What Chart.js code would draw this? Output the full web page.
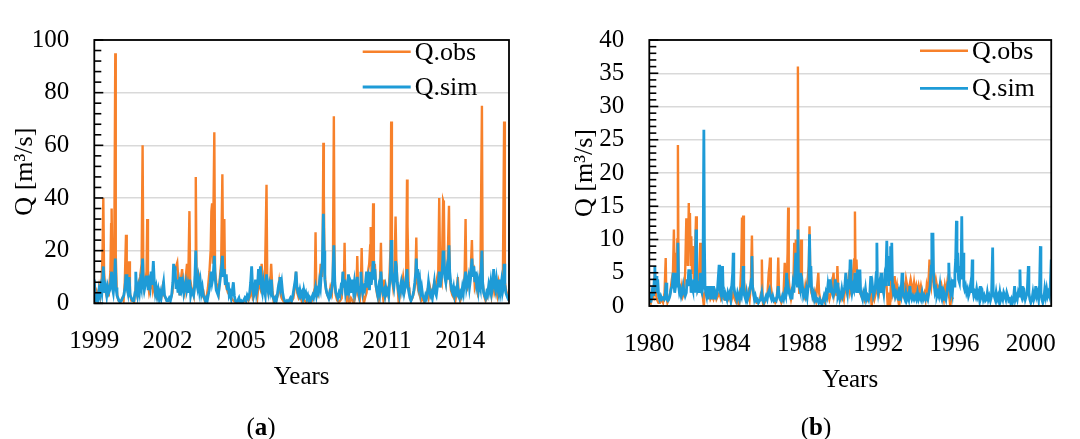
<!DOCTYPE html>
<html>
<head>
<meta charset="utf-8">
<script src="https://cdn.jsdelivr.net/npm/chart.js@4.4.1/dist/chart.umd.min.js"></script>
<style>
  html, body { margin: 0; padding: 0; background: #fff; }
  #wrap { position: relative; width: 1080px; height: 439px; overflow: hidden; }
  .panel { position: absolute; top: 0; width: 540px; height: 439px; }
  .cap { position: absolute; top: 413px; font: 25px "Liberation Serif", serif; color: #000; transform: translateX(-50%); }
</style>
</head>
<body>
<div id="wrap">
  <div class="panel" style="left:0"><canvas id="chartA" width="540" height="439"></canvas></div>
  <div class="panel" style="left:540px"><canvas id="chartB" width="540" height="439"></canvas></div>
  <div class="cap" style="left:261px">(<b>a</b>)</div>
  <div class="cap" style="left:816px">(<b>b</b>)</div>
</div>
<script>
// etichette e tick
const seriesNames = ['Q.obs', 'Q.sim'];
const aYearTicks = [1999, 2002, 2005, 2008, 2011, 2014];
const bYearTicks = [1980, 1984, 1988, 1992, 1996, 2000];
const aQTicks = [0, 20, 40, 60, 80, 100];
const bQTicks = [0, 5, 10, 15, 20, 25, 30, 35, 40];

// (a) portata osservata [anno, Q]
const aObs = [
  [1999.00,2],[1999.05,1],[1999.10,4],[1999.15,2],[1999.20,6],[1999.25,3],[1999.30,8],[1999.34,20],[1999.37,40],[1999.40,12],[1999.45,5],[1999.50,3],[1999.55,5],[1999.60,4],[1999.66,12],[1999.69,30],[1999.71,36],[1999.74,10],[1999.78,6],[1999.82,20],[1999.86,95],[1999.88,18],[1999.92,5],[1999.96,2],
  [2000.00,1],[2000.05,0.5],[2000.10,1],[2000.15,2],[2000.20,1],[2000.25,8],[2000.30,26],[2000.33,8],[2000.38,4],[2000.43,16],[2000.46,4],[2000.52,1],[2000.58,1],[2000.63,0.5],[2000.70,6],[2000.76,3],[2000.82,8],[2000.88,10],[2000.94,15],[2000.98,60],
  [2001.01,12],[2001.05,6],[2001.10,8],[2001.14,12],[2001.17,32],[2001.20,8],[2001.25,4],[2001.30,6],[2001.35,9],[2001.40,5],[2001.45,8],[2001.50,3],[2001.56,2],[2001.62,4],[2001.68,3],[2001.74,2],[2001.80,6],[2001.86,3],[2001.92,2],[2001.97,1],
  [2002.03,1],[2002.08,1],[2002.14,2],[2002.20,4],[2002.25,10],[2002.30,12],[2002.35,14],[2002.40,15.5],[2002.45,8],[2002.50,3],[2002.55,9],[2002.60,13],[2002.65,6],[2002.70,4],[2002.75,10],[2002.80,15],[2002.85,8],[2002.90,35],[2002.93,9],[2002.98,6],
  [2003.03,5],[2003.08,3],[2003.13,10],[2003.16,48],[2003.19,10],[2003.24,12],[2003.28,11],[2003.33,5],[2003.38,6],[2003.43,3],[2003.48,4],[2003.54,0.5],[2003.60,2],[2003.66,6],[2003.72,12],[2003.77,20],[2003.80,35],[2003.83,38],[2003.86,15],[2003.92,65],[2003.95,12],
  [2004.00,8],[2004.05,6],[2004.10,4],[2004.15,10],[2004.20,15],[2004.25,49],[2004.28,14],[2004.33,32],[2004.36,8],[2004.42,6],[2004.48,4],[2004.55,3],[2004.62,2],[2004.70,1],[2004.78,0.5],[2004.86,0],[2004.94,1],
  [2005.02,0.5],[2005.10,0.5],[2005.18,1],[2005.25,2],[2005.32,1],[2005.40,3],[2005.45,6],[2005.50,2],[2005.56,3],[2005.62,5],[2005.68,2],[2005.74,8],[2005.80,6],[2005.86,15],[2005.90,8],[2005.95,4],
  [2006.00,12],[2006.06,45],[2006.09,8],[2006.14,4],[2006.20,6],[2006.25,15],[2006.30,5],[2006.35,1],[2006.40,2],[2006.46,1],[2006.52,3],[2006.58,8],[2006.63,4],[2006.68,2],[2006.74,1],[2006.80,0.5],[2006.86,0.5],[2006.92,0],[2006.98,1],
  [2007.04,0.5],[2007.10,1],[2007.16,2],[2007.22,6],[2007.27,12],[2007.32,4],[2007.38,2],[2007.44,3],[2007.50,1],[2007.56,2],[2007.62,1],[2007.68,0.5],[2007.74,1],[2007.80,0.5],[2007.86,0],[2007.92,1],[2007.98,3],
  [2008.04,6],[2008.07,27],[2008.10,4],[2008.16,3],[2008.22,6],[2008.28,15],[2008.33,10],[2008.36,20],[2008.39,61],[2008.41,42],[2008.44,12],[2008.50,5],[2008.56,3],[2008.62,2],[2008.68,6],[2008.74,4],[2008.78,10],[2008.82,71],[2008.85,8],[2008.90,3],[2008.96,1],
  [2009.02,0.5],[2009.08,1],[2009.14,2],[2009.20,12],[2009.23,6],[2009.26,23],[2009.29,5],[2009.35,1],[2009.40,3],[2009.46,0],[2009.52,2],[2009.58,1],[2009.64,0],[2009.70,3],[2009.75,6],[2009.78,18],[2009.82,3],[2009.88,1],[2009.93,8],[2009.96,21],
  [2010.00,4],[2010.05,0],[2010.10,2],[2010.16,4],[2010.22,12],[2010.27,15],[2010.31,22],[2010.33,29],[2010.37,8],[2010.40,14],[2010.43,38],[2010.46,12],[2010.50,15],[2010.55,6],[2010.60,3],[2010.66,1],[2010.70,4],[2010.75,23],[2010.78,6],[2010.84,2],[2010.89,9],[2010.94,3],
  [2011.00,5],[2011.05,3],[2011.10,10],[2011.14,20],[2011.17,69],[2011.20,10],[2011.25,6],[2011.30,10],[2011.35,33],[2011.38,17],[2011.42,8],[2011.48,0],[2011.54,4],[2011.60,6],[2011.66,10],[2011.72,5],[2011.78,8],[2011.82,47],[2011.84,30],[2011.88,8],[2011.94,3],[2011.98,1],
  [2012.04,2],[2012.10,4],[2012.16,8],[2012.20,25],[2012.23,9],[2012.28,5],[2012.34,3],[2012.40,1],[2012.46,2],[2012.52,0.5],[2012.58,1],[2012.64,4],[2012.70,2],[2012.76,6],[2012.82,3],[2012.88,5],[2012.94,8],
  [2013.00,6],[2013.06,10],[2013.10,12],[2013.14,40],[2013.18,10],[2013.24,8],[2013.30,39],[2013.33,38],[2013.36,12],[2013.42,8],[2013.48,14],[2013.54,37],[2013.57,10],[2013.62,5],[2013.68,3],[2013.74,2],[2013.80,1],[2013.86,4],[2013.90,10],[2013.94,3],
  [2014.00,1],[2014.06,3],[2014.12,6],[2014.18,10],[2014.22,32],[2014.25,8],[2014.30,6],[2014.36,8],[2014.42,10],[2014.48,24],[2014.51,12],[2014.56,13],[2014.60,6],[2014.66,8],[2014.72,4],[2014.78,6],[2014.83,12],[2014.89,75],[2014.92,8],[2014.98,3],
  [2015.04,1],[2015.10,2],[2015.16,5],[2015.22,7],[2015.28,3],[2015.34,8],[2015.40,4],[2015.46,6],[2015.52,3],[2015.58,8],[2015.64,5],[2015.70,6],[2015.75,10],[2015.80,69],[2015.83,8],[2015.88,5],[2015.94,3],[2016.00,1]
];

// (a) portata simulata
const aSim = [
  [1999.00,9],[1999.03,3],[1999.07,1],[1999.11,4],[1999.15,2],[1999.19,5],[1999.23,3],[1999.27,6],[1999.31,4],[1999.35,10],[1999.37,14],[1999.40,6],[1999.43,4],[1999.47,6],[1999.51,3],[1999.55,6],[1999.59,4],[1999.63,5],[1999.67,8],[1999.71,12],[1999.74,6],[1999.78,4],[1999.82,8],[1999.86,17],[1999.89,6],[1999.93,3],[1999.97,2],
  [2000.01,1],[2000.06,0.5],[2000.11,1],[2000.16,2],[2000.21,3],[2000.26,6],[2000.30,11],[2000.34,6],[2000.38,4],[2000.43,10],[2000.47,3],[2000.52,2],[2000.57,1],[2000.62,1],[2000.67,4],[2000.70,12],[2000.73,5],[2000.77,3],[2000.81,6],[2000.85,4],[2000.89,8],[2000.93,6],[2000.98,17],
  [2001.01,8],[2001.05,5],[2001.09,7],[2001.13,10],[2001.17,10],[2001.21,5],[2001.25,8],[2001.29,6],[2001.33,12],[2001.37,7],[2001.42,16],[2001.46,8],[2001.50,4],[2001.54,6],[2001.58,3],[2001.62,5],[2001.66,2],[2001.70,4],[2001.74,2],[2001.79,5],[2001.84,8],[2001.88,3],[2001.93,2],[2001.97,1],
  [2002.02,1],[2002.07,2],[2002.12,1],[2002.17,3],[2002.22,8],[2002.25,15],[2002.28,10],[2002.31,14],[2002.35,6],[2002.39,9],[2002.43,4],[2002.47,7],[2002.51,3],[2002.55,10],[2002.59,6],[2002.63,8],[2002.67,4],[2002.71,6],[2002.75,8],[2002.79,5],[2002.83,7],[2002.87,4],[2002.91,9],[2002.95,3],[2002.99,5],
  [2003.03,4],[2003.07,3],[2003.11,6],[2003.16,20],[2003.19,8],[2003.23,6],[2003.27,9],[2003.31,5],[2003.35,8],[2003.39,4],[2003.43,6],[2003.47,3],[2003.51,2],[2003.55,1],[2003.59,2],[2003.63,1],[2003.67,3],[2003.71,5],[2003.75,8],[2003.79,12],[2003.83,8],[2003.87,10],[2003.92,18],[2003.96,9],
  [2004.00,5],[2004.04,4],[2004.08,3],[2004.12,6],[2004.16,9],[2004.20,12],[2004.25,18],[2004.29,10],[2004.33,13],[2004.37,7],[2004.41,11],[2004.45,5],[2004.49,8],[2004.53,3],[2004.57,4],[2004.61,2],[2004.66,5],[2004.70,8],[2004.74,3],[2004.78,1],[2004.83,0.5],[2004.88,1],[2004.93,2],[2004.97,0.5],
  [2005.02,1],[2005.07,0.5],[2005.12,1],[2005.17,2],[2005.22,1],[2005.27,3],[2005.32,2],[2005.37,4],[2005.41,8],[2005.45,14],[2005.49,6],[2005.53,3],[2005.57,5],[2005.61,9],[2005.65,4],[2005.69,6],[2005.73,13],[2005.77,7],[2005.81,14],[2005.85,6],[2005.89,4],[2005.93,8],[2005.97,5],
  [2006.01,3],[2006.06,11],[2006.10,6],[2006.14,4],[2006.18,7],[2006.22,5],[2006.26,9],[2006.30,3],[2006.34,2],[2006.38,1],[2006.42,2],[2006.46,1],[2006.50,3],[2006.54,6],[2006.58,8],[2006.61,10],[2006.64,6],[2006.68,8],[2006.72,4],[2006.76,2],[2006.80,1],[2006.85,0.5],[2006.90,1],[2006.95,0.5],[2006.99,1],
  [2007.04,2],[2007.09,1],[2007.14,3],[2007.19,6],[2007.24,9],[2007.27,12],[2007.31,6],[2007.35,4],[2007.39,3],[2007.43,5],[2007.47,3],[2007.51,4],[2007.55,2],[2007.59,5],[2007.63,3],[2007.67,4],[2007.71,2],[2007.75,3],[2007.79,1],[2007.83,2],[2007.87,1],[2007.91,2],[2007.95,3],[2007.99,2],
  [2008.03,4],[2008.07,6],[2008.11,3],[2008.15,5],[2008.19,4],[2008.23,8],[2008.27,6],[2008.31,12],[2008.35,16],[2008.39,34],[2008.42,20],[2008.45,9],[2008.49,6],[2008.53,4],[2008.57,3],[2008.61,2],[2008.65,4],[2008.69,3],[2008.73,5],[2008.77,8],[2008.82,22],[2008.86,8],[2008.90,4],[2008.94,3],[2008.98,2],
  [2009.03,4],[2009.07,3],[2009.11,6],[2009.15,5],[2009.19,12],[2009.23,6],[2009.26,9],[2009.30,4],[2009.34,6],[2009.38,3],[2009.42,11],[2009.46,5],[2009.50,7],[2009.54,4],[2009.58,9],[2009.62,5],[2009.66,8],[2009.70,4],[2009.74,6],[2009.78,10],[2009.82,5],[2009.86,3],[2009.90,6],[2009.93,12],[2009.96,7],
  [2010.00,4],[2010.04,6],[2010.08,5],[2010.12,8],[2010.16,12],[2010.20,6],[2010.24,9],[2010.28,5],[2010.31,12],[2010.35,7],[2010.39,10],[2010.43,16],[2010.46,9],[2010.50,13],[2010.54,7],[2010.58,5],[2010.62,3],[2010.66,6],[2010.70,4],[2010.75,12],[2010.79,6],[2010.83,4],[2010.87,5],[2010.91,3],[2010.95,6],[2010.99,4],
  [2011.03,5],[2011.07,3],[2011.11,8],[2011.14,12],[2011.17,24],[2011.20,12],[2011.24,8],[2011.28,6],[2011.32,10],[2011.35,16],[2011.38,14],[2011.42,8],[2011.46,5],[2011.50,3],[2011.54,6],[2011.58,8],[2011.62,5],[2011.66,7],[2011.70,4],[2011.74,6],[2011.78,9],[2011.82,13],[2011.86,6],[2011.90,4],[2011.94,2],[2011.98,1],
  [2012.02,2],[2012.06,3],[2012.10,5],[2012.14,8],[2012.18,12],[2012.20,17],[2012.23,10],[2012.26,13],[2012.30,7],[2012.34,9],[2012.38,4],[2012.42,6],[2012.46,3],[2012.50,2],[2012.54,1],[2012.58,3],[2012.62,2],[2012.66,4],[2012.70,8],[2012.74,5],[2012.78,3],[2012.82,4],[2012.86,2],[2012.90,5],[2012.94,8],[2012.98,4],
  [2013.02,3],[2013.06,6],[2013.10,8],[2013.14,12],[2013.18,6],[2013.22,9],[2013.26,12],[2013.30,20],[2013.33,18],[2013.37,10],[2013.41,8],[2013.45,12],[2013.49,9],[2013.54,22],[2013.57,12],[2013.61,8],[2013.65,5],[2013.69,4],[2013.73,6],[2013.77,3],[2013.81,5],[2013.85,4],[2013.89,7],[2013.93,3],[2013.97,2],
  [2014.01,4],[2014.05,3],[2014.09,6],[2014.13,4],[2014.17,8],[2014.22,12],[2014.26,6],[2014.30,8],[2014.34,10],[2014.38,6],[2014.42,9],[2014.48,17],[2014.52,10],[2014.56,14],[2014.60,8],[2014.63,12],[2014.67,7],[2014.71,9],[2014.75,5],[2014.79,8],[2014.83,6],[2014.89,20],[2014.92,8],[2014.96,4],
  [2015.00,3],[2015.04,2],[2015.08,4],[2015.12,3],[2015.17,7],[2015.21,5],[2015.25,8],[2015.29,4],[2015.33,6],[2015.37,13],[2015.41,7],[2015.45,5],[2015.49,9],[2015.53,6],[2015.57,4],[2015.61,9],[2015.65,5],[2015.69,8],[2015.73,4],[2015.77,6],[2015.80,15],[2015.83,7],[2015.87,4],[2015.91,3],[2015.95,2],[2016.00,1]
];

// (b) portata osservata
const bObs = [
  [1980.00,1],[1980.08,0.5],[1980.15,2],[1980.22,1.5],[1980.29,5],[1980.33,2],[1980.40,1],[1980.48,0.5],[1980.56,0.5],[1980.64,1],[1980.72,0.5],[1980.80,2],[1980.86,7.2],[1980.89,1.5],[1980.95,0.5],
  [1981.02,1],[1981.10,2],[1981.18,4],[1981.24,5],[1981.29,11.5],[1981.33,4],[1981.38,8],[1981.42,3],[1981.47,10],[1981.50,24.2],[1981.53,5],[1981.58,3],[1981.64,2],[1981.70,3],[1981.76,1.5],[1981.82,2],[1981.88,5],[1981.94,13],[1981.98,13],
  [1982.02,6],[1982.07,15.5],[1982.10,10],[1982.13,14],[1982.17,6],[1982.20,10.5],[1982.24,5],[1982.28,9],[1982.33,4],[1982.38,6],[1982.45,13.5],[1982.49,5],[1982.54,3],[1982.60,4],[1982.67,9.5],[1982.70,3],[1982.76,2],[1982.80,1.5],[1982.86,0],[1982.90,2],[1982.96,2],
  [1983.04,1.5],[1983.12,2],[1983.20,1],[1983.28,1.5],[1983.36,1],[1983.44,2],[1983.52,1],[1983.60,1.5],[1983.68,2],[1983.76,1],[1983.84,1.5],[1983.92,1],
  [1984.00,1],[1984.08,1.5],[1984.16,1],[1984.24,2],[1984.32,1],[1984.40,2],[1984.48,1],[1984.56,0.5],[1984.64,1],[1984.70,0],[1984.76,2],[1984.82,6],[1984.86,13.3],[1984.89,8],[1984.92,13.6],[1984.96,4],
  [1985.02,2],[1985.08,1.5],[1985.14,1],[1985.20,2],[1985.26,1],[1985.32,3],[1985.38,10.6],[1985.42,3],[1985.48,1.5],[1985.56,1],[1985.64,0.5],[1985.72,0.5],[1985.80,1],[1985.86,2],[1985.90,7],[1985.94,1],[1985.98,0],
  [1986.04,0.5],[1986.12,1],[1986.20,2],[1986.26,5],[1986.30,6],[1986.33,7.3],[1986.37,3],[1986.44,1.5],[1986.52,1],[1986.60,0.5],[1986.68,1],[1986.72,3],[1986.76,7.3],[1986.80,2],[1986.86,1],[1986.92,0.5],[1986.98,1],
  [1987.04,2],[1987.10,6.5],[1987.14,2],[1987.20,3],[1987.25,8],[1987.28,14.8],[1987.31,4],[1987.37,2],[1987.43,1],[1987.50,2],[1987.56,4],[1987.60,9.5],[1987.64,6],[1987.68,10],[1987.72,8],[1987.76,4],[1987.79,36],[1987.82,5],[1987.86,2],[1987.90,4],[1987.96,10],
  [1988.00,3],[1988.06,2],[1988.12,1.5],[1988.18,3],[1988.24,2],[1988.30,4],[1988.36,6],[1988.40,12],[1988.44,4],[1988.50,2],[1988.56,1.5],[1988.62,1],[1988.68,2],[1988.74,1],[1988.80,3],[1988.86,5],[1988.90,2],[1988.96,1],
  [1989.04,0.5],[1989.12,1],[1989.20,0.5],[1989.28,1],[1989.36,2],[1989.44,1],[1989.52,2],[1989.58,3],[1989.66,5],[1989.70,2],[1989.76,3],[1989.82,1.5],[1989.86,6],[1989.90,3],[1989.96,1.5],
  [1990.04,1],[1990.12,2],[1990.20,1],[1990.28,3],[1990.36,2],[1990.44,4],[1990.52,2],[1990.60,3],[1990.68,5],[1990.74,7],[1990.78,14.2],[1990.81,5],[1990.86,7],[1990.90,4],[1990.96,3],
  [1991.04,2],[1991.12,1.5],[1991.20,2],[1991.28,1],[1991.36,2],[1991.44,1],[1991.52,1.5],[1991.60,2],[1991.66,0],[1991.72,2],[1991.80,1],[1991.88,2],[1991.96,3],
  [1992.04,2],[1992.12,4],[1992.20,3],[1992.28,2],[1992.36,4],[1992.44,3],[1992.50,0],[1992.56,2],[1992.62,0],[1992.68,4.5],[1992.74,2],[1992.80,3],[1992.86,4.5],[1992.92,2],[1992.98,3],
  [1993.04,1],[1993.10,0],[1993.16,2],[1993.22,3],[1993.28,2],[1993.34,3],[1993.40,2],[1993.46,4],[1993.52,3],[1993.58,2],[1993.64,3],[1993.70,4],[1993.76,3],[1993.82,2],[1993.88,3.5],[1993.94,2],
  [1994.00,3],[1994.06,2],[1994.12,3],[1994.18,2],[1994.24,3],[1994.30,2],[1994.36,1.5],[1994.42,2],[1994.48,1],[1994.54,3],[1994.60,2],[1994.66,5],[1994.69,7],[1994.73,4],[1994.78,3],[1994.84,5],[1994.90,4],[1994.96,3],
  [1995.02,4],[1995.08,3],[1995.14,2.5],[1995.20,3],[1995.26,2],[1995.32,3],[1995.38,2],[1995.44,1],[1995.50,3],[1995.56,2],[1995.62,3.5],[1995.68,2],[1995.74,1],[1995.78,0],[1995.84,1.5],[1995.92,1]
];

// (b) portata simulata
const bSim = [
  [1980.00,1],[1980.04,2],[1980.08,0.5],[1980.13,1.5],[1980.18,3],[1980.22,1.5],[1980.26,4],[1980.29,6],[1980.32,3],[1980.36,4.5],[1980.40,2],[1980.44,4],[1980.49,1.5],[1980.54,1],[1980.60,1.5],[1980.66,1],[1980.72,1.2],[1980.78,1],[1980.83,1.5],[1980.88,3.5],[1980.92,1],[1980.97,0.8],
  [1981.02,1],[1981.08,1.5],[1981.14,2.5],[1981.20,3],[1981.25,5],[1981.29,4],[1981.33,2],[1981.38,3],[1981.42,5],[1981.47,3],[1981.50,9.5],[1981.54,3],[1981.58,2],[1981.63,2.5],[1981.68,1.5],[1981.73,2],[1981.78,3],[1981.83,2],[1981.88,1.5],[1981.94,2],[1981.98,4],
  [1982.02,3],[1982.07,5.5],[1982.11,3],[1982.15,5.5],[1982.19,2],[1982.24,3],[1982.28,2.5],[1982.33,4],[1982.38,2],[1982.42,5],[1982.45,11.5],[1982.48,4],[1982.52,2.5],[1982.57,3],[1982.62,2],[1982.67,5],[1982.71,2.5],[1982.76,2],[1982.81,3],[1982.86,26.5],[1982.89,9.5],[1982.92,3],[1982.96,2],
  [1983.00,1.5],[1983.04,3],[1983.08,1],[1983.13,3],[1983.17,1.5],[1983.21,3],[1983.25,1],[1983.29,3],[1983.33,1.5],[1983.37,3],[1983.41,1],[1983.46,2],[1983.51,1.5],[1983.56,2],[1983.61,4],[1983.66,6.2],[1983.69,3],[1983.73,2],[1983.78,1.5],[1983.84,6],[1983.87,2.5],[1983.92,1.5],[1983.97,1],
  [1984.02,1.5],[1984.07,1],[1984.12,2],[1984.17,1.5],[1984.22,2],[1984.27,1],[1984.32,3],[1984.37,5],[1984.40,8],[1984.43,3],[1984.48,2],[1984.53,1.5],[1984.58,1],[1984.63,2],[1984.68,1.5],[1984.73,1],[1984.78,2],[1984.83,1.5],[1984.88,3],[1984.92,6],[1984.95,2],
  [1985.00,1.5],[1985.05,1],[1985.10,2],[1985.15,1],[1985.20,1.5],[1985.25,2],[1985.30,3],[1985.35,4],[1985.38,7.5],[1985.41,3],[1985.46,2],[1985.51,1],[1985.56,1.5],[1985.61,0.8],[1985.67,1],[1985.72,0.5],[1985.78,0.8],[1985.84,1],[1985.90,2],[1985.95,0.8],
  [1986.00,0.5],[1986.06,1],[1986.12,1.5],[1986.18,1],[1986.24,2],[1986.30,2.5],[1986.35,1.5],[1986.41,1],[1986.47,1.5],[1986.53,0.8],[1986.59,1],[1986.65,0.8],[1986.70,1.5],[1986.76,3],[1986.80,1.5],[1986.86,1],[1986.92,0.8],[1986.98,1.5],
  [1987.04,1],[1987.10,2],[1987.15,1.5],[1987.20,5],[1987.24,2.5],[1987.28,3],[1987.33,2],[1987.38,1.5],[1987.43,2],[1987.48,1],[1987.53,3],[1987.58,2],[1987.63,5],[1987.68,8],[1987.72,4],[1987.76,3],[1987.79,11.5],[1987.82,4],[1987.86,3],[1987.90,2.5],[1987.94,5],[1987.98,2],
  [1988.03,3],[1988.08,1.5],[1988.13,2],[1988.18,1.5],[1988.23,2.5],[1988.28,1.5],[1988.33,3],[1988.37,5],[1988.40,10.8],[1988.43,5],[1988.47,6],[1988.51,2.5],[1988.56,1.5],[1988.61,2],[1988.66,1],[1988.71,1.5],[1988.76,0.8],[1988.82,1],[1988.88,0.5],[1988.94,1],
  [1989.00,0.5],[1989.05,0.2],[1989.10,0.8],[1989.16,1.5],[1989.21,1],[1989.26,2],[1989.31,1.5],[1989.36,3],[1989.40,2],[1989.45,4],[1989.49,2],[1989.54,3],[1989.59,2],[1989.64,1.5],[1989.70,2],[1989.75,4],[1989.79,2],[1989.84,3.5],[1989.89,1.5],[1989.94,2],[1989.99,1],
  [1990.04,1.5],[1990.09,2.5],[1990.14,1.5],[1990.19,2],[1990.25,3],[1990.30,5],[1990.34,3],[1990.39,2],[1990.44,4],[1990.48,2.5],[1990.53,7],[1990.57,3],[1990.62,2],[1990.67,3],[1990.72,2.5],[1990.78,5],[1990.82,3],[1990.87,2],[1990.92,5.5],[1990.95,2],
  [1991.00,3],[1991.04,5.5],[1991.08,2],[1991.13,1.5],[1991.18,1],[1991.23,2],[1991.28,1.5],[1991.33,2.5],[1991.38,1],[1991.44,1.5],[1991.50,1],[1991.56,2],[1991.61,4.5],[1991.65,2],[1991.70,3],[1991.75,1.5],[1991.80,2],[1991.85,3],[1991.90,5],[1991.93,9.5],[1991.96,3],
  [1992.00,2],[1992.05,3],[1992.10,2],[1992.15,5],[1992.19,2],[1992.24,3],[1992.29,2],[1992.34,4],[1992.39,3],[1992.45,9.8],[1992.48,6],[1992.51,7.5],[1992.55,3],[1992.58,7.5],[1992.62,5],[1992.65,9],[1992.68,4],[1992.71,9.5],[1992.75,3],[1992.79,2],[1992.84,2.5],[1992.89,1.5],[1992.94,2],[1992.99,1.5],
  [1993.04,2],[1993.09,1],[1993.14,2],[1993.19,1.5],[1993.25,5],[1993.29,2],[1993.34,1.5],[1993.40,1],[1993.45,2],[1993.50,1],[1993.55,1.5],[1993.60,1],[1993.66,3],[1993.71,1.5],[1993.76,1],[1993.82,1.5],[1993.88,1],[1993.94,1.5],
  [1994.00,1],[1994.06,2],[1994.12,1],[1994.18,1.5],[1994.24,1],[1994.30,2],[1994.36,1],[1994.42,1.5],[1994.48,1],[1994.54,1.5],[1994.60,1],[1994.66,2],[1994.72,3],[1994.78,6],[1994.81,11],[1994.84,9],[1994.87,11],[1994.90,5],[1994.94,3],[1994.98,2],
  [1995.03,2.5],[1995.08,1.5],[1995.13,2],[1995.18,1.5],[1995.24,3],[1995.29,1.5],[1995.34,1],[1995.40,2],[1995.45,1],[1995.50,1.5],[1995.55,1],[1995.60,2],[1995.66,3.5],[1995.70,6.5],[1995.74,3],[1995.79,2],[1995.84,3],[1995.89,2],[1995.94,4],[1995.98,3],
  [1996.02,5],[1996.06,7],[1996.10,12.8],[1996.13,5],[1996.17,8],[1996.21,4],[1996.26,3.5],[1996.30,6],[1996.34,4],[1996.38,13.5],[1996.41,5],[1996.45,8],[1996.49,3],[1996.53,2.5],[1996.58,3],[1996.63,2],[1996.68,2.5],[1996.73,1.5],[1996.78,2],[1996.83,3],[1996.88,2],[1996.93,7],[1996.96,2.5],
  [1997.01,1.5],[1997.06,2],[1997.11,1.5],[1997.16,2.5],[1997.21,1.5],[1997.26,2],[1997.31,1],[1997.36,3],[1997.41,1.5],[1997.46,2],[1997.51,1],[1997.56,1.5],[1997.62,0.8],[1997.67,1],[1997.72,2],[1997.77,1],[1997.82,1.5],[1997.88,0.8],[1997.94,1.5],
  [1998.00,8.8],[1998.03,2],[1998.08,1.5],[1998.13,1],[1998.18,2],[1998.23,1],[1998.28,1.5],[1998.33,0.8],[1998.38,2],[1998.43,1],[1998.48,1.5],[1998.53,1],[1998.58,2],[1998.64,1.5],[1998.69,1],[1998.74,2],[1998.79,1.5],[1998.84,0.8],[1998.89,1],[1998.94,0.5],[1998.99,1],
  [1999.04,0.5],[1999.09,1],[1999.15,3],[1999.19,1],[1999.24,1.5],[1999.29,1],[1999.34,2],[1999.39,1.5],[1999.43,5.5],[1999.46,2],[1999.51,1.5],[1999.56,3],[1999.61,1.5],[1999.66,2],[1999.71,1],[1999.76,1.5],[1999.81,2],[1999.87,6],[1999.90,2],[1999.95,1],
  [2000.00,0.5],[2000.06,1],[2000.11,2],[2000.16,1],[2000.21,1.5],[2000.26,3],[2000.31,1.5],[2000.36,2],[2000.41,1],[2000.46,3],[2000.50,9],[2000.53,2],[2000.58,1],[2000.63,0.5],[2000.68,1],[2000.73,2.5],[2000.78,1.5],[2000.83,2.5],[2000.88,1.5],[2000.93,2],[2000.98,1.5],[2001.02,3],[2001.07,7]
];

const ORANGE = '#F7812B';
const BLUE = '#1E9BD7';
const FONT = '"Liberation Serif", "Times New Roman", serif';

function toPts(arr) {
  return arr.map(function (p) { return { x: p[0], y: p[1] }; });
}

// cornice, tacche interne e legenda
const framePlugin = {
  id: 'frame',
  afterDraw: function (chart, args, opts) {
    const ctx = chart.ctx;
    const a = chart.chartArea;
    const ys = chart.scales.y;
    ctx.save();
    ctx.strokeStyle = '#000';
    ctx.lineWidth = 1.6;
    for (let v = ys.min; v <= ys.max + 1e-9; v += opts.minorStep) {
      const py = ys.getPixelForValue(v);
      const r = v / opts.majorStep;
      const major = Math.abs(r - Math.round(r)) < 1e-6;
      ctx.beginPath();
      ctx.moveTo(a.left, py);
      ctx.lineTo(a.left + (major ? 9 : 7), py);
      ctx.stroke();
    }
    ctx.lineWidth = 1.8;
    ctx.strokeRect(a.left, a.top, a.right - a.left, a.bottom - a.top);

    ctx.font = '26px ' + FONT;
    ctx.textBaseline = 'middle';
    ctx.textAlign = 'left';
    chart.data.datasets.forEach(function (ds, i) {
      const ly = opts.legendY[i];
      ctx.strokeStyle = ds.borderColor;
      ctx.lineWidth = ds.borderWidth;
      ctx.beginPath();
      ctx.moveTo(opts.legendX, ly);
      ctx.lineTo(opts.legendX + 48, ly);
      ctx.stroke();
      ctx.fillStyle = '#000';
      ctx.fillText(ds.label, opts.legendX + 52, ly + 1);
    });
    ctx.restore();
  }
};

function makeChart(id, obs, sim, cfg) {
  const ctx = document.getElementById(id).getContext('2d');
  return new Chart(ctx, {
    type: 'line',
    data: {
      datasets: [{
        label: seriesNames[0],
        data: toPts(obs),
        borderColor: ORANGE,
        borderWidth: 2.4,
        pointRadius: 0,
        tension: 0,
        order: 2
      }, {
        label: seriesNames[1],
        data: toPts(sim),
        borderColor: BLUE,
        borderWidth: 2.8,
        pointRadius: 0,
        tension: 0,
        order: 1
      }]
    },
    options: {
      responsive: false,
      animation: false,
      layout: { padding: cfg.padding },
      plugins: {
        legend: { display: false },
        tooltip: { enabled: false },
        frame: cfg.frame
      },
      scales: {
        x: {
          type: 'linear',
          min: cfg.xMin,
          max: cfg.xMax,
          afterBuildTicks: function (s) { s.ticks = cfg.xTicks.map(function (v) { return { value: v }; }); },
          afterFit: function (s) { s.height = 90; },
          grid: { display: false, drawTicks: false },
          border: { display: false },
          ticks: {
            autoSkip: false, maxRotation: 0, padding: 23, color: '#000',
            font: { family: FONT, size: 25 },
            callback: function (v) { return String(v); }
          },
          title: {
            display: true, text: 'Years', color: '#000',
            font: { family: FONT, size: 25 },
            padding: { top: 0, bottom: 1 }
          }
        },
        y: {
          min: cfg.yMin,
          max: cfg.yMax,
          afterBuildTicks: function (s) { s.ticks = cfg.yTicks.map(function (v) { return { value: v }; }); },
          afterFit: function (s) { s.width = cfg.yWidth; },
          grid: { color: '#d9d9d9', lineWidth: 1.5, drawTicks: false },
          border: { display: false },
          ticks: { padding: 25, color: '#000', font: { family: FONT, size: 25 } },
          title: {
            display: true, text: 'Q [m³/s]', color: '#000',
            font: { family: FONT, size: 26 },
            padding: { top: cfg.yTitlePad, bottom: 0 }
          }
        }
      }
    },
    plugins: [framePlugin]
  });
}

makeChart('chartA', aObs, aSim, {
  padding: { left: 0, top: 29.3, right: 31, bottom: 45.7 },
  xMin: 1999, xMax: 2016, xTicks: aYearTicks,
  yMin: 0, yMax: 100, yTicks: aQTicks, yWidth: 94.3, yTitlePad: 10,
  frame: { minorStep: 4, majorStep: 20, legendX: 362.7, legendY: [51.7, 87] }
});

makeChart('chartB', bObs, bSim, {
  padding: { left: 0, top: 28.3, right: 23.3, bottom: 43 },
  xMin: 1980, xMax: 2001.07, xTicks: bYearTicks,
  yMin: 0, yMax: 40, yTicks: bQTicks, yWidth: 109.3, yTitlePad: 29.5,
  frame: { minorStep: 1, majorStep: 5, legendX: 380, legendY: [50.7, 88.3] }
});
</script>
</body>
</html>
